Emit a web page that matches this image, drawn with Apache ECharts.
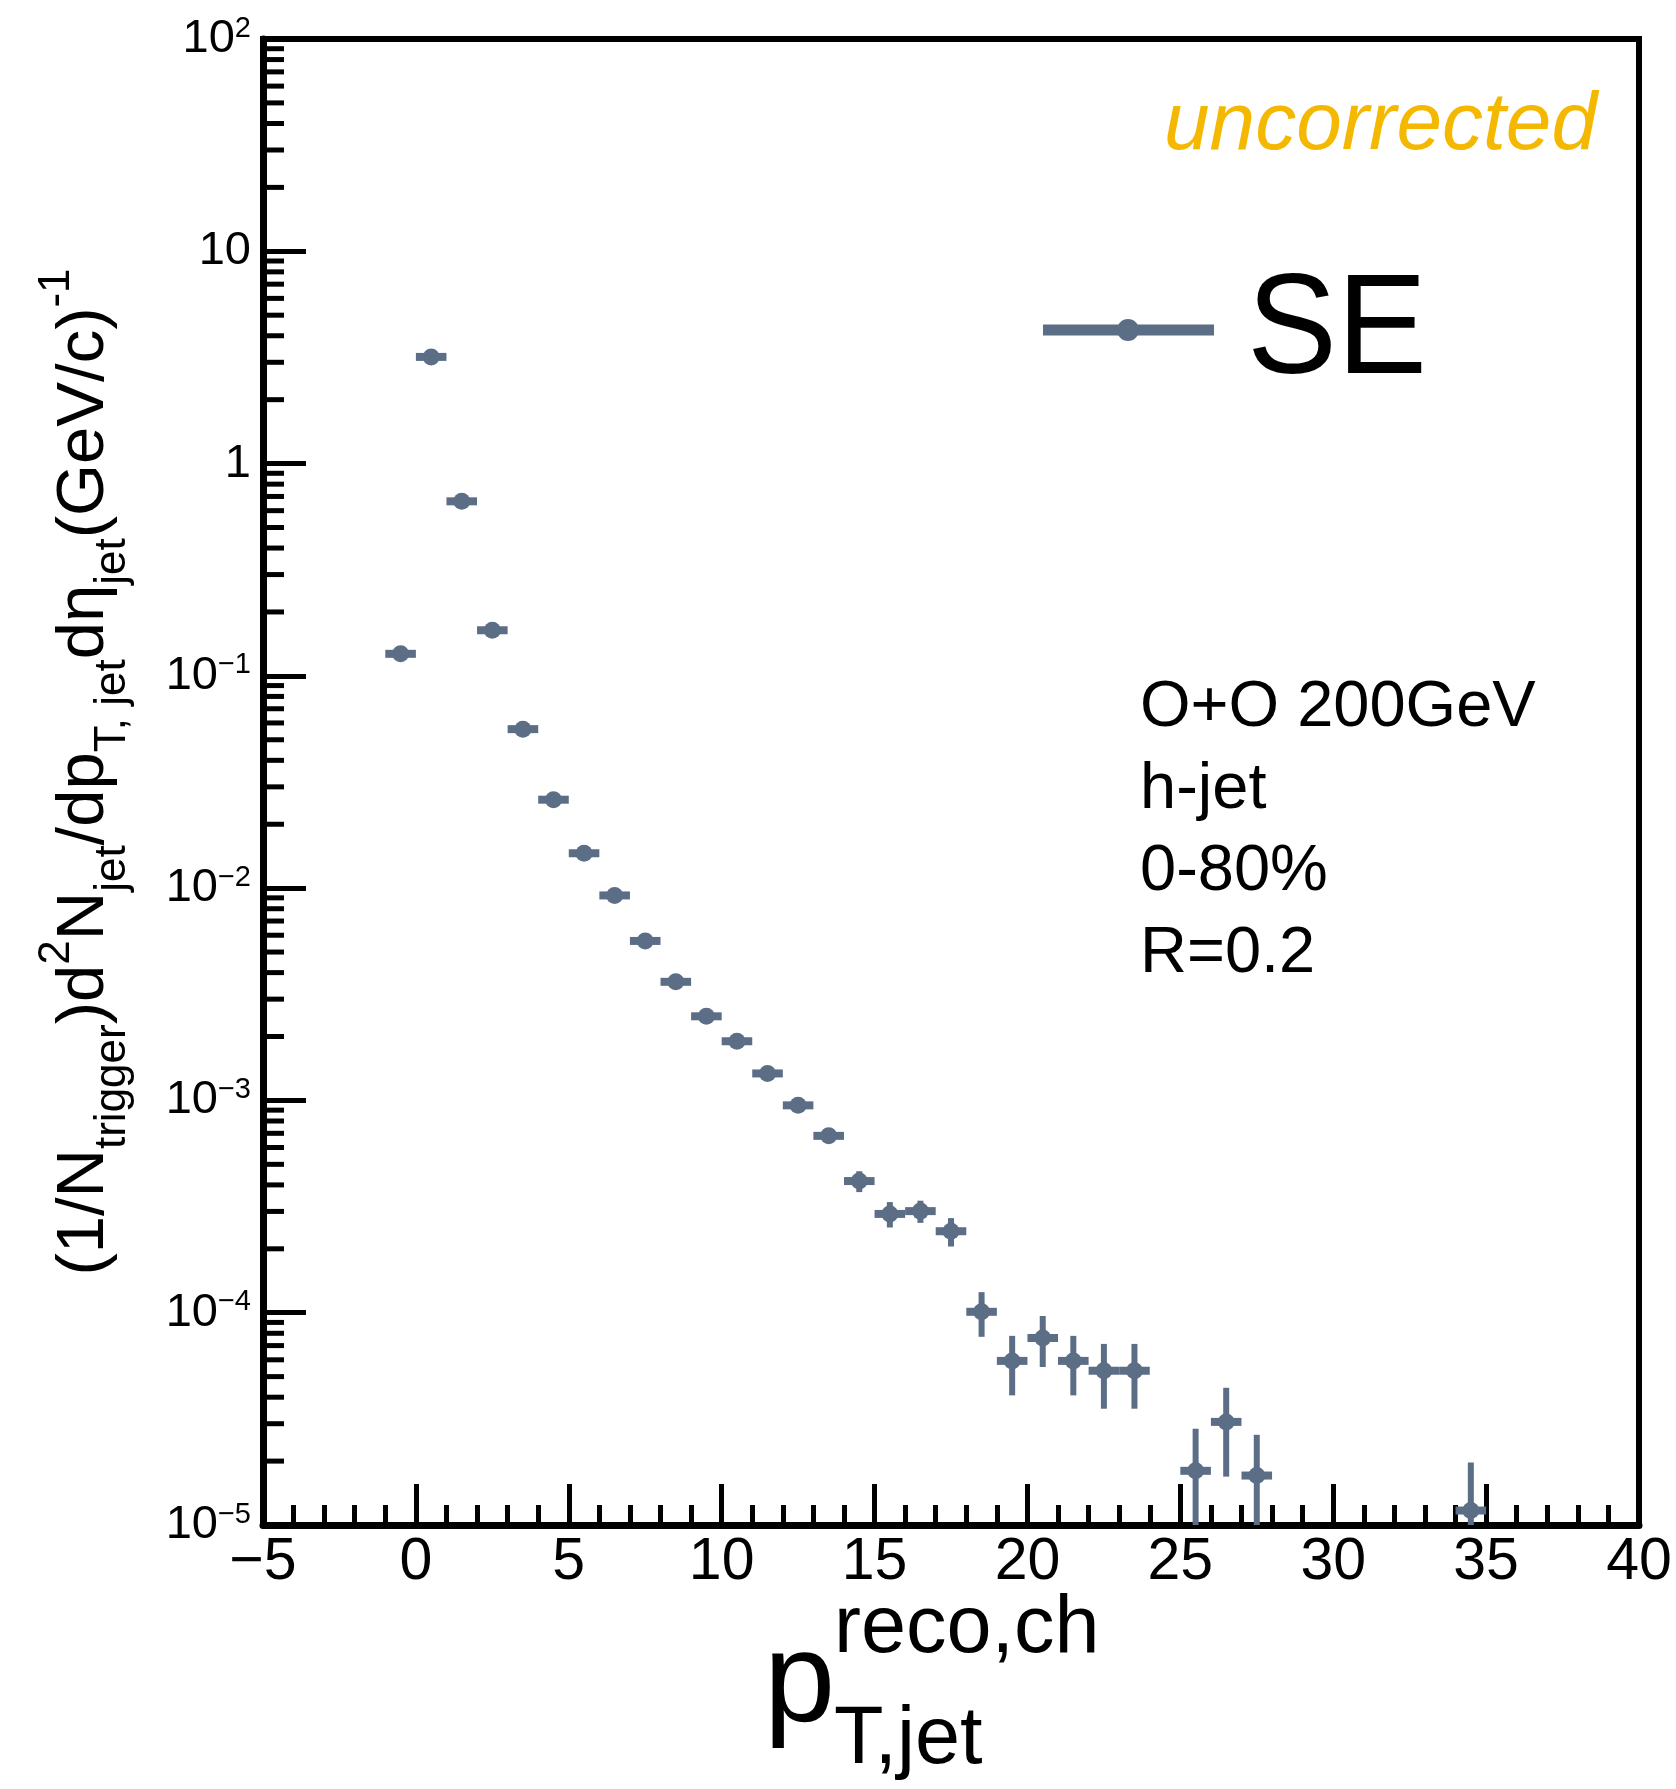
<!DOCTYPE html>
<html>
<head>
<meta charset="utf-8">
<script src="https://cdn.jsdelivr.net/npm/echarts@6/dist/echarts.min.js"></script>
<style>
html, body { margin: 0; padding: 0; background: #fff; }
#main { width: 1676px; height: 1789px; }
</style>
</head>
<body>
<div id="main"></div>
<script>
// jet pT bin centres (GeV/c)
var ptBins = [-0.5, 0.5, 1.5, 2.5, 3.5, 4.5, 5.5, 6.5, 7.5, 8.5, 9.5, 10.5, 11.5, 12.5,
    13.5, 14.5, 15.5, 16.5, 17.5, 18.5, 19.5, 20.5, 21.5, 22.5, 23.5, 25.5, 26.5, 27.5, 34.5];
// per-trigger yield
var yields = [0.127, 3.18, 0.664, 0.164, 0.0561, 0.0261, 0.0146, 0.00924, 0.00564, 0.00362,
    0.00249, 0.00190, 0.00134, 0.000948, 0.000681, 0.000417, 0.000292, 0.000301, 0.000242,
    0.000101, 5.93e-5, 7.60e-5, 5.93e-5, 5.33e-5, 5.33e-5, 1.80e-5, 3.06e-5, 1.71e-5, 1.17e-5];
// statistical errors
var yieldErrs = [0.002, 0.02, 0.006, 0.002, 0.0008, 0.0004, 0.00025, 0.00018, 0.00012, 0.00009,
    0.00008, 0.00007, 0.00005, 0.000035, 0.00004, 0.000047, 0.00004, 0.000036, 0.000037,
    0.000024, 1.85e-5, 2.05e-5, 1.85e-5, 1.8e-5, 1.8e-5, 1.04e-5, 1.37e-5, 0.95e-5, 0.8e-5];
var binHalfWidth = 0.5;

var decades = [-5, -4, -3, -2, -1, 0, 1];
var mantissas = [2, 3, 4, 5, 6, 7, 8, 9];
var infoLines = ['O+O 200GeV', 'h-jet', '0-80%', 'R=0.2'];

var seColor = '#5b6e86';
var font = 'Liberation Sans';

var pointData = ptBins.map(function (x, i) {
    return [x, yields[i], yieldErrs[i]];
});

var minorTicks = [];
decades.forEach(function (d) {
    mantissas.forEach(function (m) {
        minorTicks.push([-5, m * Math.pow(10, d)]);
    });
});

function renderPoint(params, api) {
    var x = api.value(0), y = api.value(1), e = api.value(2);
    var c = api.coord([x, y]);
    var hi = api.coord([x, y + e]);
    var lo = api.coord([x, Math.max(y - e, 1e-9)]);
    var l = api.coord([x - binHalfWidth, y]);
    var r = api.coord([x + binHalfWidth, y]);
    return {
        type: 'group',
        children: [
            { type: 'line', shape: { x1: c[0], y1: hi[1], x2: c[0], y2: lo[1] }, style: { stroke: seColor, lineWidth: 6 } },
            { type: 'line', shape: { x1: l[0], y1: c[1], x2: r[0], y2: c[1] }, style: { stroke: seColor, lineWidth: 8 } },
            { type: 'circle', shape: { cx: c[0], cy: c[1], r: 8.5 }, style: { fill: seColor } }
        ]
    };
}

function renderMinorTick(params, api) {
    var p = api.coord([api.value(0), api.value(1)]);
    return {
        type: 'line',
        shape: { x1: p[0], y1: p[1], x2: p[0] + 21, y2: p[1] },
        style: { stroke: '#000', lineWidth: 5 }
    };
}

var myChart = echarts.init(document.getElementById('main'));

var option = {
    backgroundColor: '#fff',
    animation: false,
    grid: {
        left: 263, right: 37, top: 39, bottom: 264,
        show: true, borderColor: '#000', borderWidth: 6
    },
    xAxis: {
        type: 'value',
        min: -5, max: 40, interval: 5,
        axisLine: { show: true, onZero: false, lineStyle: { color: '#000', width: 7 } },
        axisTick: { inside: true, length: 41, lineStyle: { color: '#000', width: 5 } },
        minorTick: { show: true, splitNumber: 5, length: 20, lineStyle: { color: '#000', width: 5 } },
        splitLine: { show: false },
        axisLabel: {
            fontSize: 59, color: '#000', fontFamily: font, margin: 8,
            showMinLabel: true, showMaxLabel: true,
            formatter: function (v) { return v < 0 ? '\u2212' + (-v) : String(v); }
        }
    },
    yAxis: {
        type: 'log',
        logBase: 10,
        min: 1e-5, max: 100,
        splitNumber: 7,
        axisLine: { show: true, onZero: false, lineStyle: { color: '#000', width: 7 } },
        axisTick: { inside: true, length: 43, lineStyle: { color: '#000', width: 5 } },
        splitLine: { show: false },
        axisLabel: {
            fontSize: 47, color: '#000', fontFamily: font, margin: 12, lineHeight: 50,
            formatter: function (v) {
                var e = Math.round(Math.log10(v));
                if (e === 1) return '10';
                if (e === 0) return '1';
                return '10{sp|' + (e < 0 ? '\u2212' : '') + Math.abs(e) + '}';
            },
            rich: {
                sp: { fontSize: 29, lineHeight: 30, verticalAlign: 'top', color: '#000', fontFamily: font }
            }
        }
    },
    series: [
        {
            name: 'minor',
            type: 'custom',
            renderItem: renderMinorTick,
            data: minorTicks,
            silent: true,
            z: 3
        },
        {
            name: 'SE',
            type: 'custom',
            renderItem: renderPoint,
            data: pointData,
            clip: true,
            encode: { x: 0, y: 1 },
            z: 4
        }
    ],
    graphic: {
        elements: [
            {
                type: 'text', x: 85, y: 772, rotation: Math.PI / 2,
                style: {
                    text: '{m|(1/N}{sb|trigger}{m|)d}{sp|2}{m|N}{sb|jet}{m|/dp}{sb|T, jet}{m|d\u03b7}{sb|jet}{m|(GeV/c)}{sp|-1}',
                    align: 'center', verticalAlign: 'middle',
                    rich: {
                        m: { fontSize: 67, lineHeight: 100, fontFamily: font, fill: '#000' },
                        sb: { fontSize: 44, lineHeight: 26, verticalAlign: 'bottom', fontFamily: font, fill: '#000' },
                        sp: { fontSize: 44, lineHeight: 60, verticalAlign: 'top', fontFamily: font, fill: '#000' }
                    }
                }
            },
            {
                type: 'text', x: 764, y: 1686,
                style: { text: 'p', fontSize: 128, fontFamily: font, fill: '#000', align: 'left', verticalAlign: 'middle' }
            },
            {
                type: 'text', x: 834, y: 1630,
                style: { text: 'reco,ch', fontSize: 81, fontFamily: font, fill: '#000', align: 'left', verticalAlign: 'middle' }
            },
            {
                type: 'text', x: 834, y: 1741,
                style: { text: 'T,jet', fontSize: 81, fontFamily: font, fill: '#000', align: 'left', verticalAlign: 'middle' }
            },
            {
                type: 'text', x: 1597, y: 126,
                style: { text: 'uncorrected', fontSize: 82, fontStyle: 'italic', fontFamily: font, fill: '#f5b800', align: 'right', verticalAlign: 'middle' }
            },
            {
                type: 'line', shape: { x1: 1043, y1: 330, x2: 1214, y2: 330 },
                style: { stroke: seColor, lineWidth: 11 }
            },
            {
                type: 'circle', shape: { cx: 1128, cy: 330, r: 11 },
                style: { fill: seColor }
            },
            {
                type: 'text', x: 1247, y: 334, scaleX: 0.95,
                style: { text: 'SE', fontSize: 142, fontFamily: font, fill: '#000', align: 'left', verticalAlign: 'middle' }
            },
            {
                type: 'text', x: 1140, y: 667,
                style: { text: infoLines.join('\n'), fontSize: 65, lineHeight: 82, fontFamily: font, fill: '#000', align: 'left', verticalAlign: 'top' }
            }
        ]
    }
};

myChart.setOption(option);
</script>
</body>
</html>
